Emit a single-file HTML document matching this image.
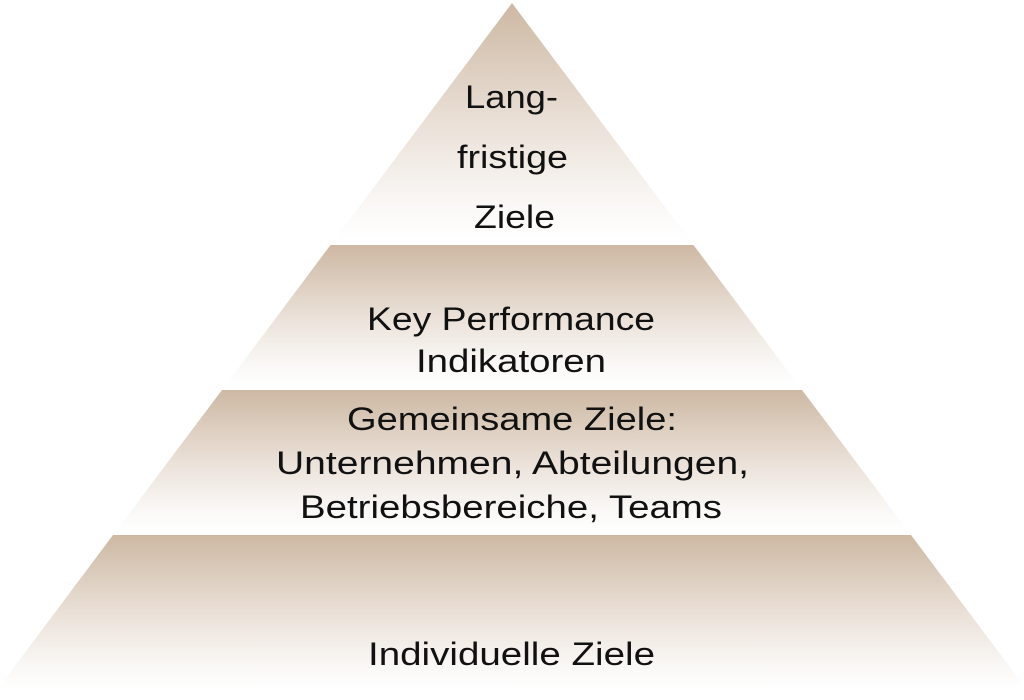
<!DOCTYPE html>
<html><head><meta charset="utf-8"><style>html,body{margin:0;padding:0;background:#fff}svg{display:block}</style></head>
<body>
<svg width="1024" height="700" viewBox="0 0 1024 700" xmlns="http://www.w3.org/2000/svg">
<defs>
<linearGradient id="g" x1="0" y1="0" x2="0" y2="1">
<stop offset="0" stop-color="#cdb8a3"/>
<stop offset="0.5" stop-color="#eae0d7"/>
<stop offset="0.85" stop-color="#faf8f6"/>
<stop offset="1" stop-color="#ffffff"/>
</linearGradient>
</defs>
<polygon points="512,3 690.5,241 333.5,241" fill="url(#g)"/>
<polygon points="330.5,245 693.5,245 799,386 225,386" fill="url(#g)"/>
<polygon points="222,390 802,390 908,531 116,531" fill="url(#g)"/>
<polygon points="113,535 911,535 1027,690 -3,690" fill="url(#g)"/>
<g font-family="Liberation Sans, sans-serif" font-size="32" fill="#111" text-anchor="middle" lengthAdjust="spacingAndGlyphs">
<text x="511.5" y="108" textLength="93" lengthAdjust="spacingAndGlyphs">Lang-</text>
<text x="512.5" y="168" textLength="111" lengthAdjust="spacingAndGlyphs">fristige</text>
<text x="514.5" y="228" textLength="81" lengthAdjust="spacingAndGlyphs">Ziele</text>
<text x="511" y="330" textLength="288" lengthAdjust="spacingAndGlyphs">Key Performance</text>
<text x="511" y="372" textLength="190" lengthAdjust="spacingAndGlyphs">Indikatoren</text>
<text x="512" y="430" textLength="330" lengthAdjust="spacingAndGlyphs">Gemeinsame Ziele:</text>
<text x="512.5" y="474" textLength="473" lengthAdjust="spacingAndGlyphs">Unternehmen, Abteilungen,</text>
<text x="511" y="518" textLength="422" lengthAdjust="spacingAndGlyphs">Betriebsbereiche, Teams</text>
<text x="511.5" y="665" textLength="287" lengthAdjust="spacingAndGlyphs">Individuelle Ziele</text>
</g>
</svg>
</body></html>
